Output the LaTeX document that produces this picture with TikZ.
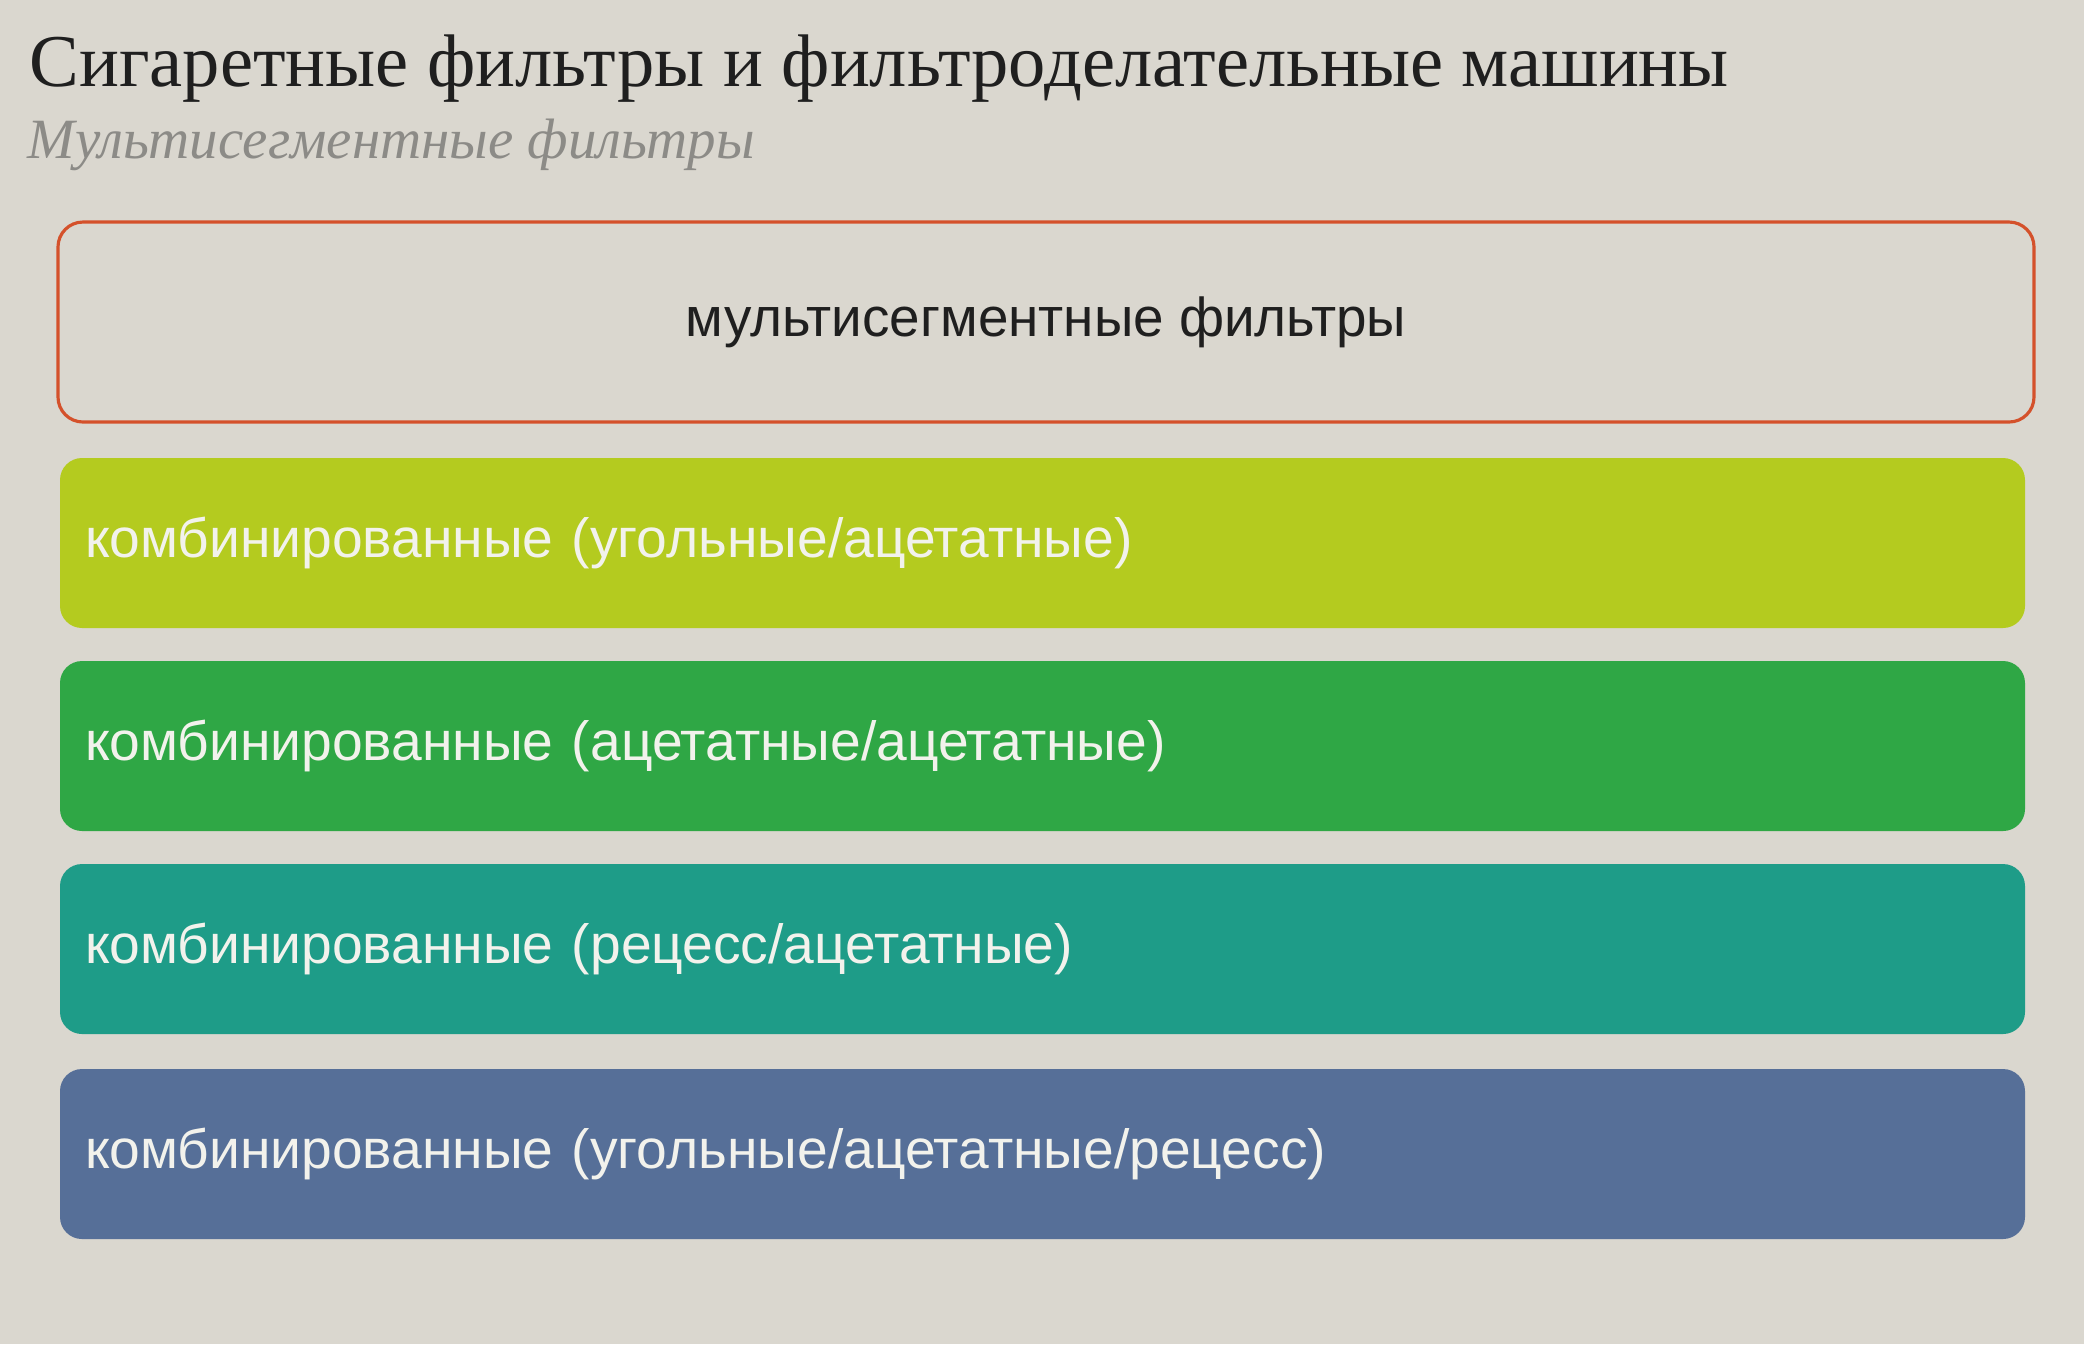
\documentclass[tikz,border=0pt]{standalone}
\usepackage{fontspec}
\setmainfont{Liberation Serif}
\newfontfamily\rowfont{Liberation Sans}
\definecolor{paper}{HTML}{DAD7CF}
\definecolor{titleink}{HTML}{1F1F1F}
\definecolor{subink}{HTML}{8C8B87}
\definecolor{frameline}{HTML}{D4512B}
\definecolor{rowink}{HTML}{F2F2EC}
\definecolor{limefill}{HTML}{B4CB1F}
\definecolor{greenfill}{HTML}{2FA745}
\definecolor{tealfill}{HTML}{1E9C88}
\definecolor{slatefill}{HTML}{566F98}
\tikzset{
  heading/.style={anchor=base west, inner sep=0pt, text=titleink, font=\fontsize{21.2}{24}\selectfont},
  subheading/.style={anchor=base west, inner sep=0pt, text=subink, font=\itshape\fontsize{16.2}{18}\selectfont},
  framebox/.style={draw=frameline, line width=0.9pt, rounded corners=0.25cm, minimum width=19.76cm, minimum height=2.0cm, align=center, text=titleink, font=\rowfont\fontsize{15.6}{18}\selectfont},
  rowbox/.style={rounded corners=0.22cm, minimum width=19.65cm, minimum height=1.70cm, text width=19.15cm, inner xsep=0.25cm, align=left, text=rowink, font=\rowfont\fontsize{15.7}{18}\selectfont}
}
\begin{document}
\begin{tikzpicture}
\fill[paper] (0,0) rectangle (20.84,-13.44);
\useasboundingbox (0,0) rectangle (20.84,-13.44);
\node[heading] (title) at (0.29,-0.86) {Сигаретные фильтры и фильтроделательные машины};
\node[subheading] (subtitle) at (0.27,-1.58) {Мультисегментные фильтры};
\node[framebox] (multi) at (10.46,-3.22) {мультисегментные фильтры};
\node[rowbox, fill=limefill] (coal) at (10.425,-5.43) {комбинированные (угольные/ацетатные)};
\node[rowbox, fill=greenfill] (acetate) at (10.425,-7.46) {комбинированные (ацетатные/ацетатные)};
\node[rowbox, fill=tealfill] (recess) at (10.425,-9.49) {комбинированные (рецесс/ацетатные)};
\node[rowbox, fill=slatefill] (triple) at (10.425,-11.54) {комбинированные (угольные/ацетатные/рецесс)};
\end{tikzpicture}
\end{document}
